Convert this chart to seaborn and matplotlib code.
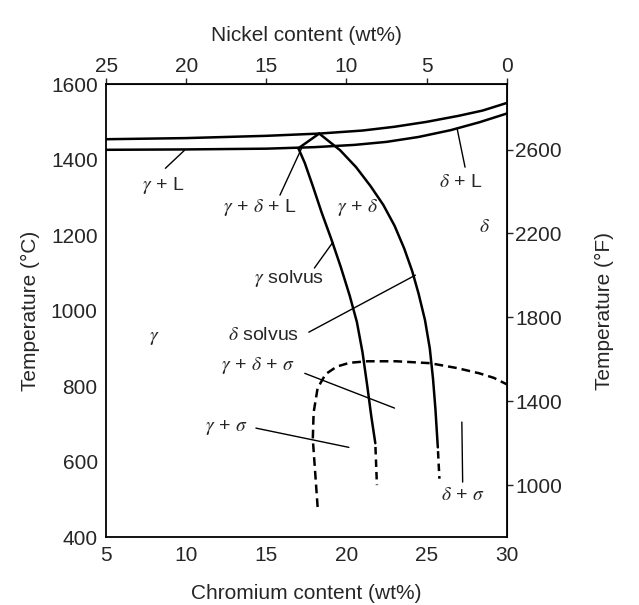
import matplotlib
matplotlib.use("Agg")
import matplotlib.pyplot as plt
import seaborn as sns

# ---------------------------------------------------------------------------
# Curve data read off the Fe-Cr-Ni (70% Fe) section
# ---------------------------------------------------------------------------
LIQ_UPPER_CR = [5, 10, 15, 18.3, 21, 23, 25, 27, 28.5, 30]
LIQ_UPPER_T  = [1454, 1457, 1463, 1469, 1477, 1487, 1500, 1516, 1530, 1550]

LIQ_LOWER_CR = [5, 10, 15, 18, 20.5, 22.5, 24.5, 26.5, 28.3, 30]
LIQ_LOWER_T  = [1426, 1427, 1429, 1433, 1439, 1447, 1460, 1478, 1499, 1522]

TRIANGLE_CR = [18.3, 17.0]
TRIANGLE_T  = [1469, 1430]

GAMMA_SOLVUS_CR = [17.0, 17.4, 17.9, 18.45, 19.05, 19.65, 20.2, 20.65, 21.0, 21.3, 21.55, 21.8]
GAMMA_SOLVUS_T  = [1430, 1391, 1330, 1260, 1190, 1115, 1040, 970, 890, 800, 720, 649]
GAMMA_SOLVUS_DASH_CR = [21.8, 21.9]
GAMMA_SOLVUS_DASH_T  = [649, 538]

DELTA_SOLVUS_CR = [18.3, 19.6, 20.6, 21.5, 22.3, 23.0, 23.6, 24.1, 24.5, 24.9, 25.2, 25.4, 25.55, 25.7]
DELTA_SOLVUS_T  = [1469, 1425, 1380, 1330, 1280, 1225, 1165, 1105, 1045, 975, 900, 820, 740, 638]
DELTA_SOLVUS_DASH_CR = [25.7, 25.8]
DELTA_SOLVUS_DASH_T  = [638, 555]

SIGMA_CR = [18.2, 18.1, 18.0, 17.9, 17.95, 18.2, 18.7, 19.4, 20.2, 21.3, 23.1, 25.2, 26.9, 28.3, 29.2, 30]
SIGMA_T  = [480, 540, 600, 660, 730, 795, 832, 852, 862, 866, 866, 861, 848, 834, 822, 805]

CR_TICKS = [5, 10, 15, 20, 25, 30]
C_TICKS  = [400, 600, 800, 1000, 1200, 1400, 1600]
NI_TICKS = [25, 20, 15, 10, 5, 0]
F_TICKS  = [1000, 1400, 1800, 2200, 2600]

# phase labels: (text, Cr, T)
LABELS = [
    (r"$\gamma$ + L", 8.55, 1332),
    (r"$\delta$ + L", 27.1, 1340),
    (r"$\gamma$ + $\delta$ + L", 14.6, 1272),
    (r"$\gamma$ + $\delta$", 20.7, 1274),
    (r"$\delta$", 28.6, 1221),
    (r"$\gamma$ solvus", 16.4, 1086),
    (r"$\delta$ solvus", 14.85, 935),
    (r"$\gamma$", 8.0, 927),
    (r"$\gamma$ + $\delta$ + $\sigma$", 14.5, 856),
    (r"$\gamma$ + $\sigma$", 12.5, 691),
    (r"$\delta$ + $\sigma$", 27.25, 511),
]

# leader lines: (Cr0, T0, Cr1, T1)
LEADERS = [
    (8.7, 1377, 9.9, 1425),
    (27.4, 1380, 26.9, 1483),
    (15.85, 1306, 17.2, 1430),
    (18.0, 1113, 19.15, 1181),
    (17.65, 943, 24.3, 1094),
    (17.4, 834, 23.0, 742),
    (14.35, 689, 20.15, 638),
    (27.2, 705, 27.25, 546),
]

sns.set_style("white")
plt.rcParams["font.family"] = ["Liberation Sans", "DejaVu Sans"]
plt.rcParams["mathtext.fontset"] = "stix"

fig, ax = plt.subplots(figsize=(6.39, 6.05), dpi=100)
fig.subplots_adjust(left=0.166, right=0.793, bottom=0.112, top=0.861)

LW = 1.8
solid = [
    (LIQ_UPPER_CR, LIQ_UPPER_T),
    (LIQ_LOWER_CR, LIQ_LOWER_T),
    (TRIANGLE_CR, TRIANGLE_T),
    (GAMMA_SOLVUS_CR, GAMMA_SOLVUS_T),
    (DELTA_SOLVUS_CR, DELTA_SOLVUS_T),
]
for xs, ys in solid:
    sns.lineplot(x=xs, y=ys, sort=False, estimator=None, color="black",
                 linewidth=LW, ax=ax)

# solvus extensions start with a gap so they read as dashed below the solid part
for xs, ys in [(GAMMA_SOLVUS_DASH_CR, GAMMA_SOLVUS_DASH_T),
               (DELTA_SOLVUS_DASH_CR, DELTA_SOLVUS_DASH_T)]:
    sns.lineplot(x=xs, y=ys, sort=False, estimator=None, color="black",
                 linewidth=LW, linestyle=(3.5, (3.0, 2.0)), ax=ax)

sns.lineplot(x=SIGMA_CR, y=SIGMA_T, sort=False, estimator=None, color="black",
             linewidth=LW, linestyle=(0, (3.5, 2)), ax=ax)

for x0, y0, x1, y1 in LEADERS:
    ax.plot([x0, x1], [y0, y1], color="black", linewidth=1.0)

for txt, x, y in LABELS:
    ax.text(x, y, txt, ha="center", va="center", fontsize=14)

ax.set_xlim(5, 30)
ax.set_ylim(400, 1600)
ax.set_xticks(CR_TICKS)
ax.set_yticks(C_TICKS)
ax.set_xlabel("Chromium content (wt%)", fontsize=15, labelpad=14)
ax.set_ylabel("Temperature (°C)", fontsize=15, labelpad=8)
ax.tick_params(direction="out", length=4, width=1, labelsize=15, pad=2)
for sp in ax.spines.values():
    sp.set_linewidth(1.3)
    sp.set_color("black")

top = ax.secondary_xaxis("top", functions=(lambda c: 30 - c, lambda n: 30 - n))
top.set_xticks(NI_TICKS)
top.set_xlabel("Nickel content (wt%)", fontsize=15, labelpad=11)
top.tick_params(direction="out", length=4, width=1, labelsize=15, pad=2)

right = ax.secondary_yaxis("right", functions=(lambda c: c * 9 / 5 + 32,
                                                lambda f: (f - 32) * 5 / 9))
right.set_yticks(F_TICKS)
right.set_ylabel("Temperature (°F)", fontsize=15, labelpad=24)
right.tick_params(direction="out", length=4, width=1, labelsize=15, pad=2)

fig.savefig("out.png", dpi=100)
